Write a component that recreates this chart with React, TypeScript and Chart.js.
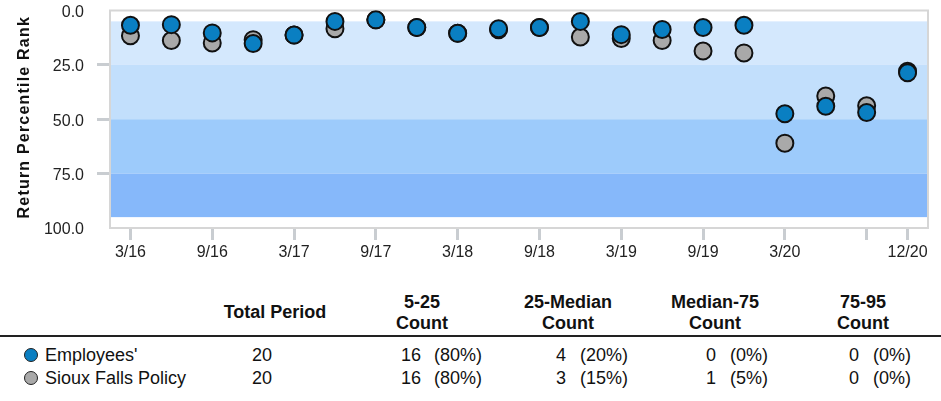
import React, { useEffect, useRef } from "react";
import { Chart, registerables } from "chart.js";

Chart.register(...registerables);

// ---- chart data ----
const categories = ["3/16", "6/16", "9/16", "12/16", "3/17", "6/17", "9/17", "12/17", "3/18", "6/18", "9/18", "12/18", "3/19", "6/19", "9/19", "12/19", "3/20", "6/20", "9/20", "12/20"];
const employees = [6.8, 6.5, 10.3, 15.2, 11.3, 5.0, 4.3, 7.8, 10.5, 8.4, 7.8, 5.0, 11.1, 8.7, 7.8, 6.8, 47.5, 44.0, 46.9, 28.6];
const siouxFalls = [11.6, 13.8, 14.9, 13.4, 11.3, 8.4, 4.3, 7.8, 10.5, 8.9, 7.8, 12.2, 12.9, 13.8, 18.6, 19.5, 61.0, 39.3, 43.8, 27.9];
const shownLabels = ["3/16", "9/16", "3/17", "9/17", "3/18", "9/18", "3/19", "9/19", "3/20", "12/20"];
const tickMarkCategories = ["3/16", "9/16", "3/17", "9/17", "3/18", "9/18", "3/19", "9/19", "3/20", "9/20", "12/20"];
const yTickMarks = [25, 50, 75];
const bandEdges = [5, 25, 50, 75, 95];
const bandColors = ["#d4e8fd", "#c2dffc", "#9dcbfb", "#86b8fa"];
const yTitle = "Return Percentile Rank";

// ---- table data ----
const seriesNames = ["Employees'", "Sioux Falls Policy"];
const seriesColors = ["#0a7fc2", "#a9a9a9"];
const totalPeriod = [20, 20];
const countHeaders = [["5-25", "Count"], ["25-Median", "Count"], ["Median-75", "Count"], ["75-95", "Count"]];
const employeesCounts = [16, 4, 0, 0];
const employeesPct = ["(80%)", "(20%)", "(0%)", "(0%)"];
const siouxCounts = [16, 3, 1, 0];
const siouxPct = ["(80%)", "(15%)", "(5%)", "(0%)"];

const FONT = '"Liberation Sans", Arial, Helvetica, sans-serif';
const W = 941;
const CH = 270;
const AREA_BOTTOM = 228;

const bandsPlugin = {
  id: "bands",
  beforeDatasetsDraw(chart: any) {
    const { ctx, chartArea } = chart;
    const y = chart.scales.y;
    ctx.save();
    for (let i = 0; i < bandColors.length; i++) {
      const y1 = y.getPixelForValue(bandEdges[i]);
      const y2 = y.getPixelForValue(bandEdges[i + 1]);
      ctx.fillStyle = bandColors[i];
      ctx.fillRect(chartArea.left, y1, chartArea.right - chartArea.left, y2 - y1);
    }
    ctx.strokeStyle = "#d6d6d6";
    ctx.lineWidth = 2;
    ctx.strokeRect(chartArea.left, chartArea.top, chartArea.right - chartArea.left, chartArea.bottom - chartArea.top);
    ctx.restore();
  },
};

const titlePlugin = {
  id: "ytitle",
  afterDraw(chart: any) {
    const { ctx, chartArea } = chart;
    ctx.save();
    ctx.translate(25, (chartArea.top + chartArea.bottom) / 2 - 2);
    ctx.rotate(-Math.PI / 2);
    ctx.font = `bold 16px ${FONT}`;
    (ctx as any).letterSpacing = "1.2px";
    ctx.fillStyle = "#111";
    ctx.textAlign = "center";
    ctx.textBaseline = "middle";
    ctx.fillText(yTitle, 0, 0);
    ctx.restore();
  },
};

function ChartView() {
  const ref = useRef<HTMLCanvasElement | null>(null);
  useEffect(() => {
    if (!ref.current) return;
    const chart = new Chart(ref.current, {
      type: "line",
      data: {
        labels: categories,
        datasets: [
          {
            label: seriesNames[0],
            data: employees,
            showLine: false,
            pointRadius: 8.5,
            pointHoverRadius: 8.5,
            pointBorderWidth: 2,
            pointBackgroundColor: seriesColors[0],
            pointBorderColor: "#111",
            borderColor: "#111",
            backgroundColor: seriesColors[0],
          },
          {
            label: seriesNames[1],
            data: siouxFalls,
            showLine: false,
            pointRadius: 8.5,
            pointHoverRadius: 8.5,
            pointBorderWidth: 2,
            pointBackgroundColor: seriesColors[1],
            pointBorderColor: "#111",
            borderColor: "#111",
            backgroundColor: seriesColors[1],
          },
        ],
      },
      options: {
        animation: false,
        responsive: false,
        maintainAspectRatio: false,
        layout: { padding: { top: 9, right: 13, left: 0, bottom: 0 } },
        plugins: { legend: { display: false }, tooltip: { enabled: false } },
        scales: {
          x: {
            type: "category",
            offset: true,
            afterFit(scale: any) {
              scale.height = CH - AREA_BOTTOM;
              scale.paddingLeft = 0;
              scale.paddingRight = 0;
            },
            border: { display: false },
            grid: {
              drawOnChartArea: false,
              drawTicks: true,
              tickLength: 12,
              lineWidth: 3,
              color: (c: any) => (tickMarkCategories.includes(categories[c.index]) ? "#c9cdd1" : "rgba(0,0,0,0)"),
            },
            ticks: {
              autoSkip: false,
              maxRotation: 0,
              padding: 3,
              color: "#222",
              font: { family: FONT, size: 16 },
              callback: (_v: any, i: number) => (shownLabels.includes(categories[i]) ? categories[i] : ""),
            },
          },
          y: {
            min: 0,
            max: 100,
            reverse: true,
            afterFit(scale: any) {
              scale.width = 110;
              scale.paddingTop = 0;
              scale.paddingBottom = 0;
            },
            border: { display: false },
            grid: {
              drawOnChartArea: false,
              drawTicks: true,
              tickLength: 13,
              lineWidth: 3,
              color: (c: any) => (c.tick && yTickMarks.includes(c.tick.value) ? "#c9cdd1" : "rgba(0,0,0,0)"),
            },
            ticks: {
              stepSize: 25,
              padding: 13,
              labelOffset: 2,
              color: "#222",
              font: { family: FONT, size: 16 },
              callback: (v: any) => Number(v).toFixed(1),
            },
          },
        },
      },
      plugins: [bandsPlugin, titlePlugin],
    });
    return () => chart.destroy();
  }, []);
  return <canvas ref={ref} width={W} height={CH} style={{ position: "absolute", left: 0, top: 0, width: W, height: CH }} />;
}

const headerCenters = [422, 568, 715, 863];
const numRight = [421, 566, 716, 859];
const pctLeft = [434, 580, 730, 873];
const rowY = [355, 378];

function Table() {
  const txt: React.CSSProperties = { position: "absolute", whiteSpace: "nowrap", fontFamily: FONT, fontSize: 18, color: "#111", lineHeight: "21px" };
  const bold: React.CSSProperties = { ...txt, fontWeight: "bold" };
  const rows = [
    { counts: employeesCounts, pct: employeesPct },
    { counts: siouxCounts, pct: siouxPct },
  ];
  return (
    <>
      <div style={{ ...bold, left: 275, top: 312, transform: "translate(-50%,-50%)" }}>Total Period</div>
      {countHeaders.map((h, i) => (
        <React.Fragment key={"h" + i}>
          <div style={{ ...bold, left: headerCenters[i], top: 302, transform: "translate(-50%,-50%)" }}>{h[0]}</div>
          <div style={{ ...bold, left: headerCenters[i], top: 323, transform: "translate(-50%,-50%)" }}>{h[1]}</div>
        </React.Fragment>
      ))}
      <div style={{ position: "absolute", left: 0, top: 335, width: W, height: 2, background: "#222" }} />
      {rows.map((r, ri) => (
        <React.Fragment key={"r" + ri}>
          <div
            style={{
              position: "absolute",
              left: 31 - 7.5,
              top: rowY[ri] - 7.5,
              width: 12,
              height: 12,
              borderRadius: "50%",
              background: seriesColors[ri],
              border: "1.5px solid #222",
            }}
          />
          <div style={{ ...txt, left: 45, top: rowY[ri], transform: "translateY(-50%)" }}>{seriesNames[ri]}</div>
          <div style={{ ...txt, left: 252, top: rowY[ri], transform: "translateY(-50%)" }}>{totalPeriod[ri]}</div>
          {r.counts.map((c, ci) => (
            <React.Fragment key={"c" + ci}>
              <div style={{ ...txt, right: W - numRight[ci], top: rowY[ri], transform: "translateY(-50%)" }}>{c}</div>
              <div style={{ ...txt, left: pctLeft[ci], top: rowY[ri], transform: "translateY(-50%)" }}>{r.pct[ci]}</div>
            </React.Fragment>
          ))}
        </React.Fragment>
      ))}
    </>
  );
}

export default function App() {
  return (
    <div style={{ position: "absolute", left: 0, top: 0, width: W, height: 401, background: "#fff", overflow: "hidden" }}>
      <ChartView />
      <Table />
    </div>
  );
}
